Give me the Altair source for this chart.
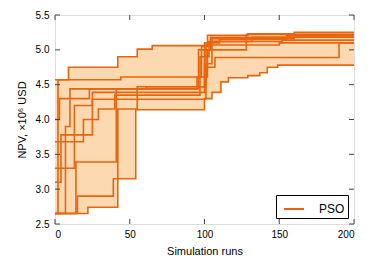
import altair as alt
import pandas as pd

# Best-so-far NPV per PSO run: breakpoints (simulation run, NPV x1e6 USD)
run_x = [
    [0, 9, 42, 55, 65, 102, 129, 160],
    [0, 2, 44, 98, 104],
    [0, 7, 10, 96, 104, 152],
    [0, 4, 25, 101, 150],
    [0, 15, 39, 54, 100, 105, 111, 116, 129, 137, 142, 149],
    [0, 22, 42, 55, 101, 107, 190],
    [0, 14, 41, 61, 100, 110, 155],
    [0, 19, 29, 40, 97, 103, 132],
    [0, 3, 23, 95, 102, 128],
    [0, 13, 25, 100, 105, 160],
]
run_y = [
    [4.57, 4.75, 4.90, 5.01, 5.06, 5.21, 5.23, 5.25],
    [2.65, 4.57, 4.61, 5.05, 5.18],
    [2.65, 3.90, 4.44, 5.00, 5.12, 5.14],
    [3.10, 3.78, 4.29, 5.07, 5.10],
    [2.65, 2.90, 3.15, 4.14, 4.30, 4.39, 4.54, 4.60, 4.63, 4.67, 4.75, 4.78],
    [2.65, 2.74, 4.15, 4.47, 4.75, 4.89, 5.10],
    [2.65, 3.39, 4.44, 4.47, 5.10, 5.15, 5.20],
    [3.68, 4.00, 4.15, 4.35, 4.90, 5.12, 5.18],
    [4.00, 4.30, 4.44, 4.61, 5.00, 5.22],
    [3.30, 4.20, 4.39, 4.80, 5.16, 5.22],
]
x_end = 200
x_ticks = [0, 50, 100, 150, 200]
y_ticks = [2.5, 3.0, 3.5, 4.0, 4.5, 5.0, 5.5]

LINE = "#e8650f"
FILL = "#fdd9b2"
W, H = 299, 209
TL = 5
FONT = "Liberation Sans"

# line table
rows = []
for i, (xs, ys) in enumerate(zip(run_x, run_y)):
    for x, y in zip(xs, ys):
        rows.append({"run": i, "x": x, "y": y, "algo": "PSO"})
    rows.append({"run": i, "x": x_end, "y": ys[-1], "algo": "PSO"})
lines_df = pd.DataFrame(rows)

# envelope table
def value_at(xs, ys, t):
    v = ys[0]
    for x, y in zip(xs, ys):
        if x <= t:
            v = y
    return v

all_x = sorted(set(x for xs in run_x for x in xs) | {x_end})
env = []
for t in all_x:
    vals = [value_at(xs, ys, t) for xs, ys in zip(run_x, run_y)]
    env.append({"x": t, "lo": min(vals), "hi": max(vals)})
env_df = pd.DataFrame(env)

xs_scale = alt.Scale(domain=[0, 200], nice=False, zero=False)
ys_scale = alt.Scale(domain=[2.5, 5.5], nice=False, zero=False)

x_axis = alt.Axis(values=x_ticks, title="Simulation runs", ticks=False, domain=False,
                  grid=False, labelPadding=5, titlePadding=6, format="d",
                  labelOverlap=False, titleFontWeight="normal")
y_axis = alt.Axis(values=y_ticks, title="NPV, ×10⁶ USD", ticks=False, domain=False,
                  grid=False, labelPadding=6, titlePadding=8, format=".1f",
                  labelOverlap=False, labelFlush=False, titleFontWeight="normal")

area = alt.Chart(env_df).mark_area(interpolate="step-after", color=FILL, opacity=1).encode(
    x=alt.X("x:Q", scale=xs_scale, axis=x_axis),
    y=alt.Y("lo:Q", scale=ys_scale, axis=y_axis),
    y2="hi:Q",
)

lines = alt.Chart(lines_df).mark_line(interpolate="step-after", strokeWidth=1.6).encode(
    x=alt.X("x:Q", scale=xs_scale, axis=x_axis),
    y=alt.Y("y:Q", scale=ys_scale, axis=y_axis),
    detail="run:N",
    color=alt.Color("algo:N", scale=alt.Scale(domain=["PSO"], range=[LINE]),
                    legend=alt.Legend(title=None, orient="bottom-right", symbolType="stroke",
                                      symbolSize=400, symbolStrokeWidth=2,
                                      strokeColor="black", fillColor="white",
                                      padding=3, offset=6, labelFontSize=12,
                                      labelFont=FONT, cornerRadius=0,
                                      symbolOffset=4, labelOffset=14)),
)

xt = pd.DataFrame({"v": x_ticks})
yt = pd.DataFrame({"v": y_ticks})
tick_color = "#444444"
xt_bottom = alt.Chart(xt).mark_rule(color=tick_color, strokeWidth=1).encode(
    x=alt.X("v:Q", scale=xs_scale, axis=x_axis), y=alt.value(H), y2=alt.value(H - TL))
xt_top = alt.Chart(xt).mark_rule(color=tick_color, strokeWidth=1).encode(
    x=alt.X("v:Q", scale=xs_scale, axis=x_axis), y=alt.value(0), y2=alt.value(TL))
yt_left = alt.Chart(yt).mark_rule(color=tick_color, strokeWidth=1).encode(
    y=alt.Y("v:Q", scale=ys_scale, axis=y_axis), x=alt.value(0), x2=alt.value(TL))
yt_right = alt.Chart(yt).mark_rule(color=tick_color, strokeWidth=1).encode(
    y=alt.Y("v:Q", scale=ys_scale, axis=y_axis), x=alt.value(W), x2=alt.value(W - TL))

chart = alt.layer(area, lines, xt_bottom, xt_top, yt_left, yt_right).properties(
    width=W, height=H,
).configure_view(stroke="black", strokeWidth=1.5).configure_axis(
    labelFont=FONT, titleFont=FONT,
    labelFontSize=12, titleFontSize=12, labelColor="black", titleColor="black",
    titleFontWeight="normal", labelOverlap=False,
).configure(padding={"left": 8, "top": 2, "right": 5, "bottom": 2})

chart.save("out.html", embed_options={"renderer": "svg", "actions": False})
